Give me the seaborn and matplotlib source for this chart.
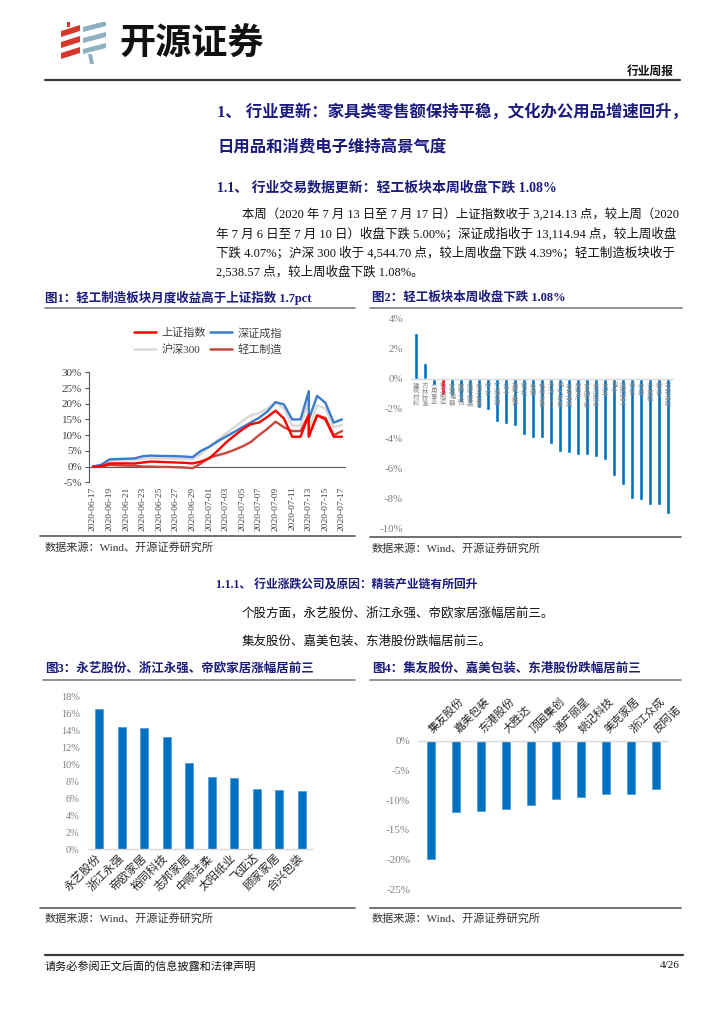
import matplotlib
matplotlib.use('Agg')
import matplotlib.pyplot as plt
import seaborn as sns
import pandas as pd
from matplotlib.lines import Line2D
from matplotlib.patches import Polygon
import matplotlib.ticker as mticker

# ---------------- data ----------------
dates1 = ['2020-06-17', '2020-06-18', '2020-06-19', '2020-06-20', '2020-06-21', '2020-06-22',
          '2020-06-23', '2020-06-24', '2020-06-25', '2020-06-26', '2020-06-27', '2020-06-28',
          '2020-06-29', '2020-06-30', '2020-07-01', '2020-07-02', '2020-07-03', '2020-07-04',
          '2020-07-05', '2020-07-06', '2020-07-07', '2020-07-08', '2020-07-09', '2020-07-10',
          '2020-07-11', '2020-07-12', '2020-07-13', '2020-07-13', '2020-07-14', '2020-07-15',
          '2020-07-16', '2020-07-17']
sh_index = [0.0, 0.1, 1.0, 1.0, 1.0, 1.0, 1.3, 1.6, 1.5, 1.4, 1.3, 1.2, 1.0, 1.6, 2.6, 5.0,
            7.6, 9.8, 11.8, 13.5, 14.0, 15.8, 17.8, 15.3, 9.5, 9.5, 16.5, 9.5, 16.3, 15.0, 9.5, 9.5]
sz_index = [0.0, 0.6, 2.3, 2.4, 2.5, 2.6, 3.3, 3.5, 3.4, 3.35, 3.3, 3.2, 3.0, 5.0, 6.3, 8.0,
            9.5, 11.0, 12.5, 14.0, 15.5, 17.5, 20.5, 19.8, 15.0, 15.0, 24.0, 15.0, 22.5, 20.3, 14.0, 15.0]
hs300 = [0.0, 0.4, 1.8, 1.9, 2.0, 2.0, 2.5, 2.7, 2.6, 2.5, 2.5, 2.4, 2.3, 4.0, 6.2, 8.5,
         10.5, 12.5, 14.5, 16.3, 17.0, 18.5, 20.5, 18.5, 13.0, 13.0, 21.0, 12.0, 19.5, 18.5, 12.5, 13.2]
light_ind = [0.0, 0.0, 0.5, 0.4, 0.3, 0.3, 0.0, 0.0, -0.1, -0.1, -0.2, -0.3, -0.5, 1.0, 2.8, 3.6,
             4.3, 5.3, 6.4, 7.8, 10.0, 12.0, 14.3, 12.5, 11.3, 11.3, 16.5, 10.0, 16.3, 15.5, 10.0, 11.3]
series_names = ['上证指数', '深证成指', '沪深300', '轻工制造']

ind_names = ['建筑材料', '农林牧渔', '公用事业', '轻工制造', '家用电器', '医药生物', '纺织服装',
             '商业贸易', '综合', '交通运输', '化工', '建筑装饰', '钢铁', '采掘', '机械设备',
             '沪深300', '电气设备', '有色金属', '房地产', '食品饮料', '休闲服务', '汽车', '电子',
             '国防军工', '通信', '传媒', '计算机', '银行', '非银金融']
ind_vals = [3.07, 1.07, -0.40, -1.08, -1.10, -1.55, -1.62, -1.95, -2.05, -2.87, -3.00, -3.13,
            -3.73, -3.90, -3.93, -4.35, -4.89, -4.93, -5.04, -5.09, -5.18, -5.40, -6.44, -7.07,
            -8.02, -8.09, -8.42, -8.42, -9.02]

up_names = ['永艺股份', '浙江永强', '帝欧家居', '裕同科技', '志邦家居', '中顺洁柔', '太阳纸业',
            '飞亚达', '顾家家居', '合兴包装']
up_vals = [16.5, 14.4, 14.3, 13.3, 10.2, 8.5, 8.45, 7.15, 7.0, 6.9]

down_names = ['集友股份', '嘉美包装', '东港股份', '大胜达', '顶固集创', '通产丽星', '姚记科技',
              '美克家居', '浙江众成', '皮阿诺']
down_vals = [-19.9, -12.0, -11.8, -11.4, -10.8, -9.7, -9.5, -9.0, -8.9, -8.1]

# ---------------- style ----------------
sns.set_theme(style='white')
plt.rcParams['font.family'] = ['Liberation Serif', 'Noto Sans CJK SC']
plt.rcParams['axes.unicode_minus'] = False

NAVY = '#1b1b7d'
BLUE = '#0070C0'
W, H = 724, 1024
fig = plt.figure(figsize=(W / 100, H / 100), dpi=100)
fig.patch.set_facecolor('white')


def add_ax(x0, y0, x1, y1):
    return fig.add_axes([x0 / W, 1 - y1 / H, (x1 - x0) / W, (y1 - y0) / H])


def T(x, y, s, **kw):
    kw.setdefault('va', 'center')
    kw.setdefault('ha', 'left')
    return fig.text(x / W, 1 - y / H, s, **kw)


def HL(x0, x1, y, color='#7f7f7f', lw=1.0):
    fig.add_artist(Line2D([x0 / W, x1 / W], [1 - y / H, 1 - y / H], color=color, lw=lw))


pct = mticker.FuncFormatter(lambda v, p: f'{v:.0f}%' if abs(v) > 1e-9 else '0%')

# ---------------- header ----------------
lax = add_ax(58, 22, 110, 64)
lax.set_xlim(0, 52)
lax.set_ylim(42, 0)
lax.axis('off')
red = '#d8382c'
grey_blue = '#8fb0c2'
for yc in (15, 26, 37):
    lax.add_patch(Polygon([(3, yc), (22, yc - 6), (22, yc - 12), (3, yc - 6)], closed=True, color=red, lw=0))
lax.add_patch(Polygon([(9, 0), (12, 0), (12, 5), (9, 5)], closed=True, color=red, lw=0))
for yc in (10, 21, 32):
    lax.add_patch(Polygon([(25, yc), (48, yc - 6), (48, yc - 11), (25, yc - 5)], closed=True, color=grey_blue, lw=0))
lax.add_patch(Polygon([(30, 32), (34, 32), (36, 42), (32, 42)], closed=True, color=grey_blue, lw=0))

T(119, 44, '开源证券', fontsize=26, weight='bold', family='Noto Sans CJK SC', color='#111111')
T(674, 72, '行业周报', fontsize=8.5, weight='bold', ha='right', color='#111111')
HL(45, 680, 80, '#3a3a3a', 1.6)

# ---------------- headings & paragraph ----------------
T(217, 112, '1、 行业更新：家具类零售额保持平稳，文化办公用品增速回升，', fontsize=11.8, weight='bold', color=NAVY)
T(217, 148, '日用品和消费电子维持高景气度', fontsize=11.8, weight='bold', color=NAVY)
T(217, 187, '1.1、 行业交易数据更新：轻工板块本周收盘下跌 1.08%', fontsize=10, weight='bold', color=NAVY)

para = [
    (242, 214, '本周（2020 年 7 月 13 日至 7 月 17 日）上证指数收于 3,214.13 点，较上周（2020', 8.9),
    (216, 234, '年 7 月 6 日至 7 月 10 日）收盘下跌 5.00%；深证成指收于 13,114.94 点，较上周收盘', 9),
    (216, 253, '下跌 4.07%；沪深 300 收于 4,544.70 点，较上周收盘下跌 4.39%；轻工制造板块收于', 9),
    (216, 272, '2,538.57 点，较上周收盘下跌 1.08%。', 9),
]
for x, y, s, fs in para:
    T(x, y, s, fontsize=fs, color='#111111')

# ---------------- figure titles ----------------
T(45, 298, '图1：轻工制造板块月度收益高于上证指数 1.7pct', fontsize=9, weight='bold', color=NAVY)
HL(45, 355, 308, '#808080', 1.2)
T(372, 298, '图2：轻工板块本周收盘下跌 1.08%', fontsize=9, weight='bold', color=NAVY)
HL(370, 682, 308, '#808080', 1.2)

src = '数据来源：Wind、开源证券研究所'
HL(40, 355, 536, '#595959', 1.2)
T(45, 547, src, fontsize=8, color='#333333')
HL(370, 681, 537, '#595959', 1.2)
T(372, 548, src, fontsize=8, color='#333333')

# ---------------- chart 1 ----------------
ax1 = add_ax(89, 372.3, 346, 482.3)
d1 = pd.to_datetime(pd.Series(dates1))
styles = {'上证指数': ('#FF0000', sh_index, 5), '深证成指': ('#3b7bcc', sz_index, 4),
          '沪深300': ('#d9d9d9', hs300, 2), '轻工制造': ('#c8473c', light_ind, 3)}
handles = {}
for name in series_names:
    c, vals, z = styles[name]
    sns.lineplot(x=d1, y=vals, ax=ax1, estimator=None, sort=False, color=c, lw=1.7, zorder=z)
    handles[name] = Line2D([], [], color=c, lw=1.8)
ax1.set_ylim(-5, 30)
ax1.set_yticks(range(-5, 31, 5))
ax1.yaxis.set_major_formatter(pct)
ax1.set_xlim(d1.iloc[0] - pd.Timedelta(hours=11.5), d1.iloc[-1] + pd.Timedelta(hours=11.5))
ticks = pd.date_range('2020-06-17', '2020-07-17', freq='2D')
ax1.set_xticks(ticks)
ax1.set_xticklabels([t.strftime('%Y-%m-%d') for t in ticks], rotation=90, fontsize=6.8, color='#404040')
ax1.tick_params(axis='x', length=0, pad=3)
ax1.tick_params(axis='y', length=3, width=0.8, color='#595959', labelsize=8, labelcolor='#404040', pad=2, left=True)
for s in ('top', 'right', 'bottom'):
    ax1.spines[s].set_visible(False)
ax1.spines['left'].set_color('#595959')
ax1.spines['left'].set_linewidth(0.8)
ax1.axhline(0, color='#595959', lw=0.8, zorder=1)
ax1.set_xlabel('')
ax1.set_ylabel('')
ax1.grid(False)
fig.legend(handles=[handles['上证指数'], handles['沪深300'], handles['深证成指'], handles['轻工制造']],
           labels=['上证指数', '沪深300', '深证成指', '轻工制造'], ncol=2, loc='center',
           bbox_to_anchor=(208 / W, 1 - 341.5 / H), frameon=False, fontsize=8,
           handlelength=2.0, handletextpad=0.5, columnspacing=0.4, labelspacing=0.55,
           labelcolor='#404040')

# ---------------- chart 2 ----------------
ax2 = add_ax(411.5, 319, 672.5, 529)
cols2 = ['#FF0000' if n == '轻工制造' else BLUE for n in ind_names]
sns.barplot(x=ind_names, y=ind_vals, hue=ind_names, palette=cols2, legend=False,
            width=0.4, saturation=1, ax=ax2)
for s in ('top', 'right', 'left'):
    ax2.spines[s].set_visible(False)
ax2.spines['bottom'].set_position(('data', 0))
ax2.spines['bottom'].set_color('#d9d9d9')
ax2.spines['bottom'].set_linewidth(1.0)
ax2.set_axisbelow(False)
ax2.set_ylim(-10, 4)
ax2.set_yticks(range(-10, 5, 2))
ax2.yaxis.set_major_formatter(pct)
ax2.set_xticks(range(len(ind_names)))
ax2.set_xticklabels(['\n'.join(n) for n in ind_names], fontsize=4.6, color='#8c8c8c',
                    linespacing=1.0, va='top')
ax2.tick_params(axis='x', length=0, pad=3)
ax2.tick_params(axis='y', length=0, labelsize=7.8, labelcolor='#7f7f7f', pad=6)
ax2.set_xlabel('')
ax2.set_ylabel('')
ax2.grid(False)

# ---------------- section 1.1.1 ----------------
T(216, 586, '1.1.1、 行业涨跌公司及原因：精装产业链有所回升', fontsize=8.5, weight='bold', color=NAVY)
T(242, 613, '个股方面，永艺股份、浙江永强、帝欧家居涨幅居前三。', fontsize=9, color='#111111')
T(242, 641, '集友股份、嘉美包装、东港股份跌幅居前三。', fontsize=9, color='#111111')

T(45, 669, '图3：永艺股份、浙江永强、帝欧家居涨幅居前三', fontsize=9, weight='bold', color=NAVY)
HL(43, 355, 680, '#808080', 1.2)
T(372, 669, '图4：集友股份、嘉美包装、东港股份跌幅居前三', fontsize=9, weight='bold', color=NAVY)
HL(370, 681, 680, '#808080', 1.2)

HL(40, 355, 908, '#595959', 1.2)
T(45, 918, src, fontsize=8, color='#333333')
HL(370, 681, 908, '#595959', 1.2)
T(372, 918, src, fontsize=8, color='#333333')

# ---------------- chart 3 ----------------
ax3 = add_ax(88, 696.7, 313, 849.3)
sns.barplot(x=up_names, y=up_vals, color=BLUE, width=0.36, saturation=1, ax=ax3,
            edgecolor='#4f95d6', linewidth=0.5)
for s in ('top', 'right', 'left'):
    ax3.spines[s].set_visible(False)
ax3.spines['bottom'].set_color('#d9d9d9')
ax3.spines['bottom'].set_linewidth(1.0)
ax3.set_ylim(0, 18)
ax3.set_yticks(range(0, 19, 2))
ax3.yaxis.set_major_formatter(pct)
ax3.set_xticks(range(len(up_names)))
ax3.set_xticklabels(up_names, rotation=45, ha='right', va='center', rotation_mode='anchor',
                    fontsize=8.3, color='#262626')
ax3.tick_params(axis='x', length=0, pad=5)
ax3.tick_params(axis='y', length=0, labelsize=7.5, labelcolor='#7f7f7f', pad=6)
ax3.set_xlabel('')
ax3.set_ylabel('')
ax3.grid(False)

# ---------------- chart 4 ----------------
ax4 = add_ax(418.5, 741, 668.5, 889.3)
sns.barplot(x=down_names, y=down_vals, color=BLUE, width=0.35, saturation=1, ax=ax4,
            edgecolor='#4f95d6', linewidth=0.5)
for s in ('bottom', 'right', 'left'):
    ax4.spines[s].set_visible(False)
ax4.spines['top'].set_color('#d9d9d9')
ax4.spines['top'].set_linewidth(1.0)
ax4.set_ylim(-25, 0)
ax4.set_yticks(range(-25, 1, 5))
ax4.yaxis.set_major_formatter(pct)
ax4.xaxis.tick_top()
ax4.set_xticks(range(len(down_names)))
ax4.set_xticklabels(down_names, rotation=45, ha='left', va='center', rotation_mode='anchor',
                    fontsize=8, color='#262626')
ax4.tick_params(axis='x', length=0, pad=7)
ax4.tick_params(axis='y', length=0, labelsize=8, labelcolor='#7f7f7f', pad=6)
ax4.set_xlabel('')
ax4.set_ylabel('')
ax4.grid(False)

# ---------------- footer ----------------
HL(45, 683, 955, '#3a3a3a', 1.6)
T(45, 966, '请务必参阅正文后面的信息披露和法律声明', fontsize=8, color='#111111')
T(680, 966, '4/26', fontsize=8, ha='right', color='#111111')

fig.savefig('out.png', dpi=100, facecolor='white')
